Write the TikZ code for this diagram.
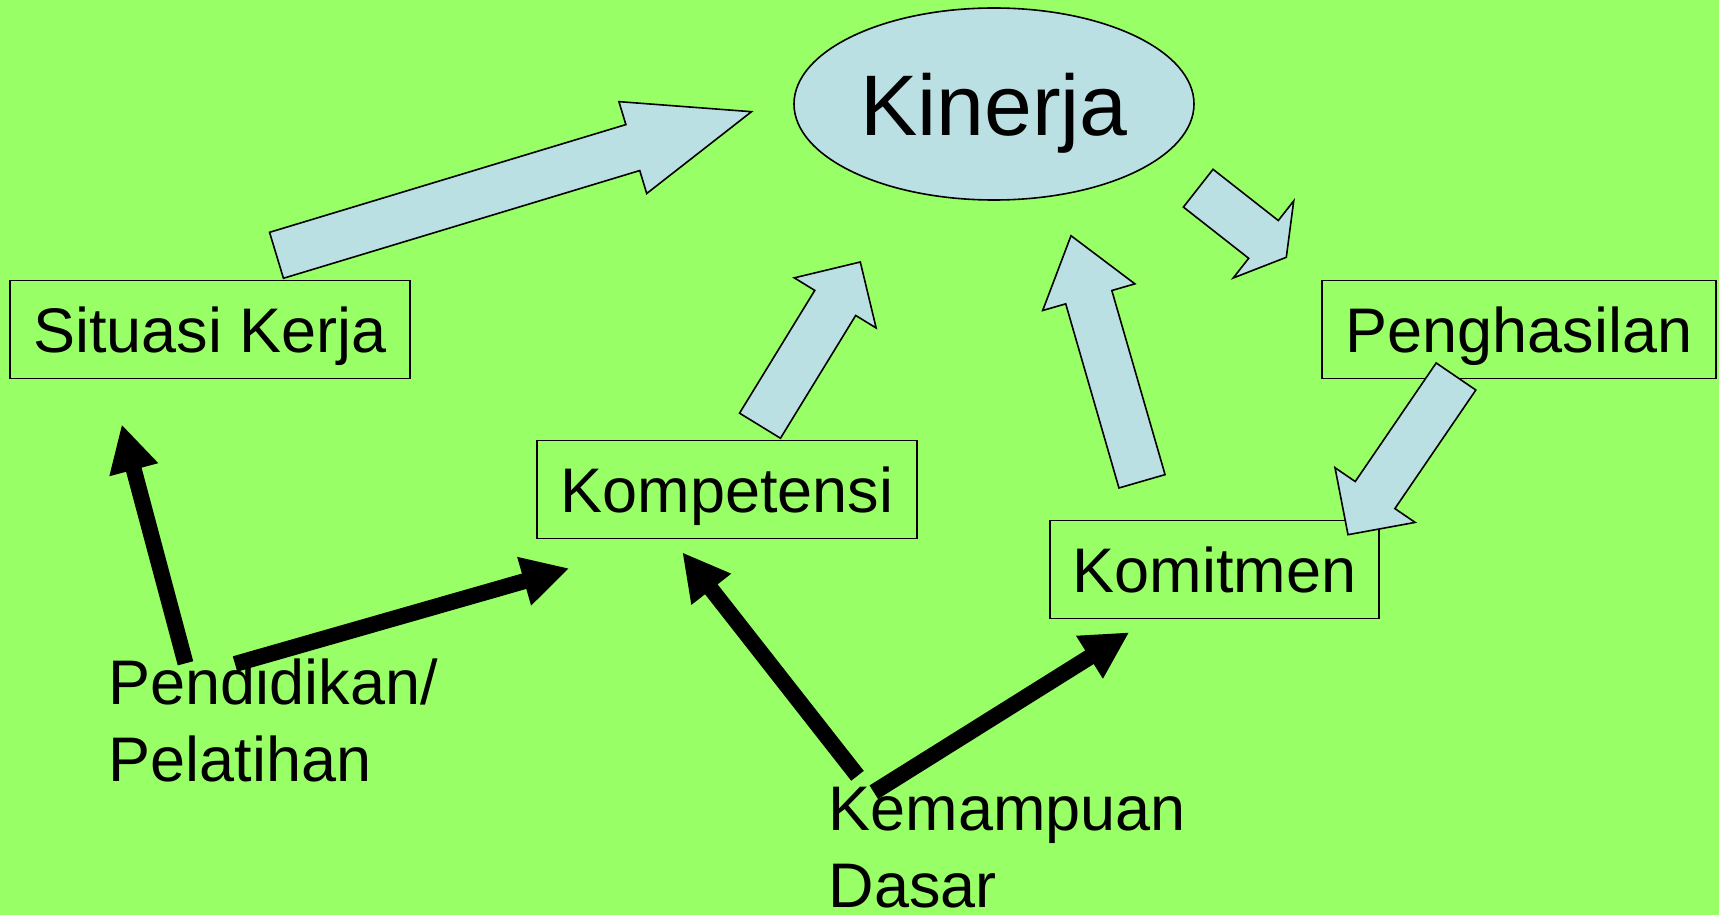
\documentclass[tikz,border=0pt]{standalone}
\usepackage{fontspec}
\setmainfont{Liberation Sans}
\usetikzlibrary{arrows.meta,calc,shapes.geometric}
\definecolor{slidegreen}{HTML}{99FF66}
\definecolor{paleblue}{HTML}{BBE0E3}
\tikzset{
  boxtext/.style={rectangle, draw=black, line width=1.6pt, fill=slidegreen,
    inner sep=0pt, minimum height=98pt, text depth=0pt,
    font=\fontsize{63}{76}\selectfont},
  hub/.style={ellipse, draw=black, line width=1.6pt, fill=paleblue,
    minimum width=400pt, minimum height=192pt, inner sep=0pt, text depth=0pt,
    font=\fontsize{86}{100}\selectfont},
  freetext/.style={inner sep=0pt, align=left, font=\fontsize{63}{77}\selectfont},
  blockarrow/.style={draw=black, line width=1.6pt, fill=paleblue, line join=miter},
  boldarrow/.style={line width=16pt, line cap=butt, -{Triangle[length=47pt,width=47pt]}},
}
% Block arrow from tail #1 to tip #2: shaft half width #3, head half width #4, head length #5
\newcommand{\fatarrow}[5]{%
  \path (#1) coordinate (fa-a) (#2) coordinate (fa-b);
  \path ($(fa-b)!#5!(fa-a)$) coordinate (fa-h);
  \draw[blockarrow] ($(fa-a)!#3!90:(fa-b)$) -- ($(fa-h)!#3!90:(fa-b)$)
    -- ($(fa-h)!#4!90:(fa-b)$) -- (fa-b) -- ($(fa-h)!#4!-90:(fa-b)$)
    -- ($(fa-h)!#3!-90:(fa-b)$) -- ($(fa-a)!#3!-90:(fa-b)$) -- cycle;}
\begin{document}
\begin{tikzpicture}[x=1pt,y=-1pt]
  % background
  \fill[slidegreen] (0,0) rectangle (1719,915);
  \useasboundingbox (0,0) rectangle (1719,915);

  % boxes and the central ellipse
  \node[hub] (kin) at (994,104) {Kinerja};
  \node[boxtext, minimum width=400pt] (sit) at (210,329.5) {Situasi Kerja};
  \node[boxtext, minimum width=394pt] (pen) at (1519,329.5) {Penghasilan};
  \node[boxtext, minimum width=380pt] (kom) at (727,489.5) {Kompetensi};
  \node[boxtext, minimum width=329pt] (kmt) at (1214.5,569.5) {Komitmen};

  % free labels
  \node[freetext, anchor=north west] (pend) at (108.5,659) {Pendidikan/\\Pelatihan};
  \node[freetext, anchor=north west] (kem) at (828.5,786.5) {Kemampuan\\Dasar};

  % end points of the block arrows
  \coordinate (sit-up)  at (276.5,255.3);  \coordinate (kin-w)  at (751.5,111.7);
  \coordinate (kom-up)  at (760,425.7);    \coordinate (kin-sw) at (860.3,262);
  \coordinate (kmt-up)  at (1142,481.3);   \coordinate (kin-s)  at (1071,235.7);
  \coordinate (kin-se)  at (1198.2,188.2); \coordinate (pen-nw) at (1286.3,257.3);
  \coordinate (pen-dn)  at (1456,376.5);   \coordinate (kmt-ne) at (1348,534.7);

  \fatarrow{sit-up}{kin-w}{24pt}{48pt}{124pt}
  \fatarrow{kom-up}{kin-sw}{24pt}{48pt}{48pt}
  \fatarrow{kmt-up}{kin-s}{24pt}{48pt}{64pt}
  \fatarrow{kin-se}{pen-nw}{24pt}{49pt}{29pt}
  \fatarrow{pen-dn}{kmt-ne}{24pt}{48.5pt}{48pt}

  % end points of the black arrows
  \coordinate (pend-a) at (185.5,663.3); \coordinate (sit-dn) at (121.7,424.3);
  \coordinate (pend-b) at (235,664);     \coordinate (kom-w)  at (569.3,568.3);
  \coordinate (kem-a)  at (857.5,775.8); \coordinate (kom-dn) at (682.3,552.3);
  \coordinate (kem-b)  at (873.8,792.2); \coordinate (kmt-dn) at (1129.3,632.3);

  \draw[boldarrow] (pend-a) -- (sit-dn);
  \draw[boldarrow] (pend-b) -- (kom-w);
  \draw[boldarrow] (kem-a) -- (kom-dn);
  \draw[boldarrow] (kem-b) -- (kmt-dn);
\end{tikzpicture}
\end{document}
